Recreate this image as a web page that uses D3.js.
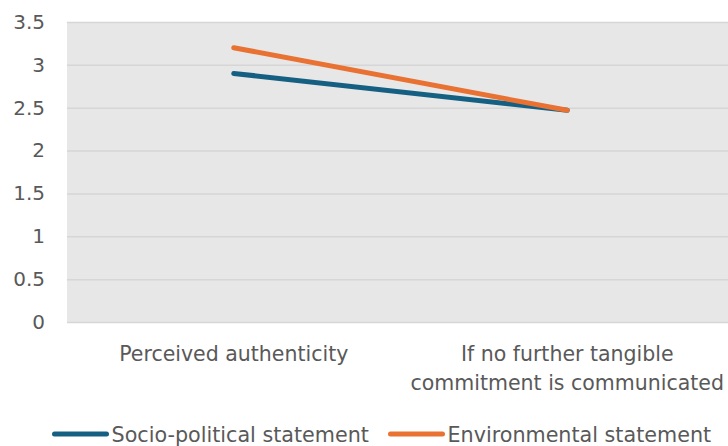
<!DOCTYPE html>
<html><head><meta charset="utf-8">
<script src="https://cdn.jsdelivr.net/npm/d3@7/dist/d3.min.js"></script>
<style>body{margin:0;background:#fff;overflow:hidden}svg{display:block}</style>
</head><body>
<script>
const categories = [["Perceived authenticity"], ["If no further tangible", "commitment is communicated"]];
const seriesNames = ["Socio-political statement", "Environmental statement"];
const socioValues = [2.9, 2.47];
const envValues = [3.2, 2.47];
const yTicks = [0, 0.5, 1, 1.5, 2, 2.5, 3, 3.5];
const colors = ["#156082", "#E97132"];

(function () {
const W = 728, H = 446;
const svg = d3.select("body").append("svg").attr("width", W).attr("height", H);
const font = "'DejaVu Sans', sans-serif";
const mLeft = 67, mRight = 734, mTop = 22, mBottom = 322;

const x = d3.scaleBand().domain(d3.range(categories.length)).range([mLeft, mRight]);
const y = d3.scaleLinear().domain([0, 3.5]).range([mBottom, mTop]);

svg.append("rect").attr("x", mLeft).attr("y", mTop).attr("width", mRight - mLeft).attr("height", mBottom - mTop).attr("fill", "#e7e7e7");

const yAxis = svg.append("g").attr("transform", `translate(${mLeft},0)`)
  .call(d3.axisLeft(y).tickValues(yTicks).tickSize(-(mRight - mLeft)).tickFormat(d => String(d)).tickPadding(22));
yAxis.select(".domain").remove();
yAxis.selectAll(".tick line").attr("stroke", "#d6d6d6").attr("stroke-width", 1.5);
yAxis.selectAll(".tick text").attr("fill", "#595959").style("font-family", font).style("font-size", "20px");

const xAxis = svg.append("g").attr("transform", `translate(0,${mBottom})`)
  .call(d3.axisBottom(x).tickSize(0).tickFormat(""));
xAxis.select(".domain").remove();
xAxis.selectAll(".tick").each(function(d) {
  const t = d3.select(this).append("text").attr("fill", "#595959").attr("text-anchor", "middle")
    .style("font-family", font).style("font-size", "20.5px");
  categories[d].forEach((line, i) => {
    t.append("tspan").attr("x", 0).attr("y", 39 + i * 29).text(line);
  });
});

const line = d3.line().x((d, i) => x(i) + x.bandwidth() / 2).y(d => y(d));
[socioValues, envValues].forEach((vals, i) => {
  svg.append("path").datum(vals).attr("d", line).attr("fill", "none")
    .attr("stroke", colors[i]).attr("stroke-width", 5).attr("stroke-linecap", "round");
});

const legendItems = [{x: 54.5, name: seriesNames[0], c: colors[0]}, {x: 390.5, name: seriesNames[1], c: colors[1]}];
legendItems.forEach(it => {
  const g = svg.append("g").attr("transform", `translate(${it.x},434)`);
  g.append("line").attr("x1", 0).attr("x2", 52).attr("y1", 0).attr("y2", 0)
    .attr("stroke", it.c).attr("stroke-width", 5).attr("stroke-linecap", "round");
  g.append("text").attr("x", 57).attr("y", 8).attr("fill", "#595959")
    .style("font-family", font).style("font-size", "20.7px").text(it.name);
});
})();
</script>
</body></html>
